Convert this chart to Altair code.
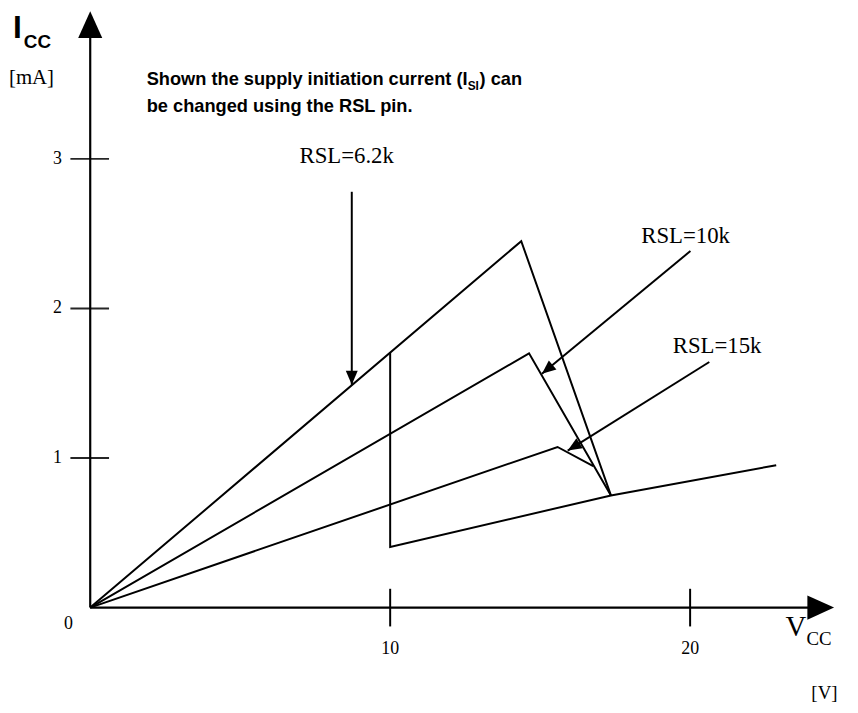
import altair as alt
import pandas as pd

# ---------------- data (V in volts, I in mA) ----------------
rsl_62_v = [0.0, 14.37, 17.36]
rsl_62_i = [0.0, 2.45, 0.75]
rsl_10_v = [0.0, 14.63, 17.36]
rsl_10_i = [0.0, 1.70, 0.75]
rsl_15_v = [0.0, 15.58, 16.77]
rsl_15_i = [0.0, 1.074, 0.946]
base_v = [10.0, 10.0, 17.36, 22.87]
base_i = [1.705, 0.405, 0.75, 0.952]

label_text = ["RSL=6.2k", "RSL=10k", "RSL=15k"]
label_v = [8.55, 19.85, 20.9]
label_i = [2.97, 2.44, 1.70]
arrow_v0 = [8.72, 20.01, 20.64]
arrow_i0 = [2.78, 2.384, 1.642]
arrow_v1 = [8.72, 15.06, 15.92]
arrow_i1 = [1.49, 1.563, 1.05]
arrow_angle = [180, 230.4, 238.4]

x_ticks = [10, 20]
y_ticks = [1, 2, 3]
x_tick_labels = ["10", "20"]
y_tick_labels = ["1", "2", "3"]

# ---------------- geometry ----------------
W, H = 757, 602
X_MAX = 25.0
PX_V = W / X_MAX
PX_I = 151.0
Y_MAX = H / PX_I
X_TIP = 24.8

xs = alt.Scale(domain=[0, X_MAX], nice=False, zero=False)
ys = alt.Scale(domain=[0, Y_MAX], nice=False, zero=False)

SERIF = "Liberation Serif"
SANS = "Liberation Sans"


def X(f):
    return alt.X(f, type="quantitative", scale=xs, axis=None)


def Y(f):
    return alt.Y(f, type="quantitative", scale=ys, axis=None)


rows = []
for name, vv, ii in [("6.2k", rsl_62_v, rsl_62_i), ("10k", rsl_10_v, rsl_10_i),
                     ("15k", rsl_15_v, rsl_15_i), ("base", base_v, base_i)]:
    for k, (v, i) in enumerate(zip(vv, ii)):
        rows.append({"series": name, "order": k, "v": v, "i": i})
curves_df = pd.DataFrame(rows)

curves = alt.Chart(curves_df).mark_line(color="black", strokeWidth=2, strokeJoin="miter").encode(
    x=X("v"), y=Y("i"), detail="series:N", order="order:Q",
)

# axes lines
axes_df = pd.DataFrame({
    "v": [0.0, 0.0], "v2": [X_TIP - 20 / PX_V, 0.0],
    "i": [0.0, 0.0], "i2": [0.0, Y_MAX - 20 / PX_I],
})
axes = alt.Chart(axes_df).mark_rule(color="black", strokeWidth=2.2).encode(
    x=X("v"), x2="v2:Q", y=Y("i"), y2="i2:Q",
)

head_shape = "M0,0 L0.45,1 L-0.45,1 Z"
heads_df = pd.DataFrame({"v": [0.0, X_TIP], "i": [Y_MAX, 0.0], "ang": [0, 90]})
heads = alt.Chart(heads_df).mark_point(
    shape=head_shape, filled=True, color="black", opacity=1, size=2916, strokeWidth=0
).encode(x=X("v"), y=Y("i"), angle=alt.Angle("ang:Q", scale=None))

# ticks
xt_df = pd.DataFrame({"v": x_ticks, "lab": x_tick_labels,
                      "a": [-19 / PX_I] * 2, "b": [19 / PX_I] * 2, "z": [0.0] * 2})
xt = alt.Chart(xt_df).mark_rule(color="black", strokeWidth=2).encode(
    x=X("v"), y=Y("a"), y2="b:Q",
)
xt_lab = alt.Chart(xt_df).mark_text(font=SERIF, fontSize=18, baseline="alphabetic", dy=47).encode(
    x=X("v"), y=Y("z"), text="lab:N",
)
yt_df = pd.DataFrame({"i": y_ticks, "lab": y_tick_labels,
                      "a": [-20 / PX_V] * 3, "b": [19 / PX_V] * 3, "z": [0.0] * 3})
yt = alt.Chart(yt_df).mark_rule(color="black", strokeWidth=2, opacity=0.85).encode(
    y=Y("i"), x=X("a"), x2="b:Q",
)
yt_lab = alt.Chart(yt_df).mark_text(font=SERIF, fontSize=18, align="center", baseline="middle", dx=-33).encode(
    y=Y("i"), x=X("z"), text="lab:N",
)
zero_lab = alt.Chart(pd.DataFrame({"lab": ["0"], "z": [0.0]})).mark_text(
    font=SERIF, fontSize=18, baseline="alphabetic", dx=-22, dy=22
).encode(x=X("z"), y=Y("z"), text="lab:N")

# annotations
ann_df = pd.DataFrame({
    "lab": label_text, "lv": label_v, "li": label_i,
    "v0": arrow_v0, "i0": arrow_i0, "v1": arrow_v1, "i1": arrow_i1, "ang": arrow_angle,
})
ann_text = alt.Chart(ann_df).mark_text(font=SERIF, fontSize=23, baseline="alphabetic", align="center").encode(
    x=X("lv"), y=Y("li"), text="lab:N",
)
ann_line = alt.Chart(ann_df).mark_rule(color="black", strokeWidth=2).encode(
    x=X("v0"), x2="v1:Q", y=Y("i0"), y2="i1:Q",
)
ann_head = alt.Chart(ann_df).mark_point(
    shape="M0,0 L0.43,1 L-0.43,1 Z", filled=True, color="black", opacity=1, size=784, strokeWidth=0
).encode(x=X("v1"), y=Y("i1"), angle=alt.Angle("ang:Q", scale=None))


# free text (pixel positions relative to plot origin at page (91, 8))
def txt(s, x, y, size, font, bold=False):
    return alt.Chart(pd.DataFrame({"t": [s]})).mark_text(
        font=font, fontSize=size, fontWeight="bold" if bold else "normal",
        align="left", baseline="alphabetic", color="black"
    ).encode(x=alt.value(x), y=alt.value(y), text="t:N")


texts = [
    txt("I", -78, 27, 32, SANS, True),
    txt("CC", -67, 37, 19, SANS, True),
    txt("[mA]", -82, 73, 21, SERIF),
    txt("Shown the supply initiation current (I", 57, 74, 18.4, SANS, True),
    txt("SI", 381, 79, 12, SANS, True),
    txt(") can", 393, 74, 18.4, SANS, True),
    txt("be changed using the RSL pin.", 57, 102, 18.4, SANS, True),
    txt("V", 702, 631, 29, SERIF),
    txt("CC", 723, 640, 19, SERIF),
    txt("[V]", 728, 694, 19, SERIF),
]

chart = alt.layer(
    curves, axes, heads, xt, xt_lab, yt, yt_lab, zero_lab, ann_line, ann_head, ann_text, *texts
).properties(
    width=W, height=H,
    autosize=alt.AutoSizeParams(type="none"),
    padding={"left": 83, "top": 0, "right": 10, "bottom": 95},
).configure_view(stroke=None)

chart.save("out.html", embed_options={"renderer": "svg", "actions": False})
